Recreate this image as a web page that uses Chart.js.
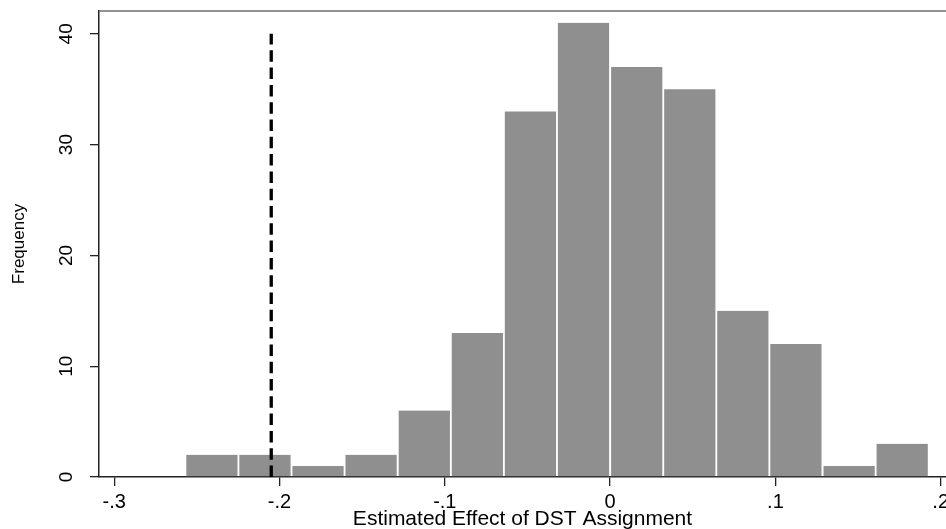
<!DOCTYPE html>
<html>
<head>
<meta charset="utf-8">
<script src="https://cdn.jsdelivr.net/npm/chart.js@4.4.0/dist/chart.umd.min.js"></script>
<style>
  html, body { margin: 0; padding: 0; background: #fff; }
  #wrap { width: 946px; height: 529px; }
</style>
</head>
<body>
<div id="wrap"><canvas id="hist"></canvas></div>
<script>
// centres of the histogram bins (estimated effect) and their counts
const binCenters = [-0.2409, -0.2088, -0.1767, -0.1446, -0.1124, -0.0803, -0.0482, -0.0161, 0.0161, 0.0482, 0.0803, 0.1124, 0.1446, 0.1767];
const frequency = [2, 2, 1, 2, 6, 13, 33, 41, 37, 35, 15, 12, 1, 3];

// dashed reference line (actual estimate)
const refLineX = [-0.2050, -0.2050];
const refLineY = [0, 40];

// axis ticks
const xTicks = [-0.3, -0.2, -0.1, 0, 0.1, 0.2];
const xTickLabels = ['-.3', '-.2', '-.1', '0', '.1', '.2'];
const yTicks = [0, 10, 20, 30, 40];
const yTickLabels = ['0', '10', '20', '30', '40'];

const FONT = '"Liberation Sans", Arial, sans-serif';

// thin grey line closing the plot region on top
const topLine = {
  id: 'topLine',
  afterDraw(chart) {
    const { ctx, chartArea } = chart;
    ctx.save();
    ctx.strokeStyle = '#6f6f6f';
    ctx.lineWidth = 1.5;
    ctx.beginPath();
    ctx.moveTo(chartArea.left, chartArea.top);
    ctx.lineTo(chartArea.right, chartArea.top);
    ctx.stroke();
    ctx.restore();
  }
};

// keep the plot box where the reference has it (no extra label padding)
function noPad(s) {
  s.paddingTop = 0;
  s.paddingBottom = 0;
  s.paddingLeft = 0;
  s.paddingRight = 0;
}

new Chart(document.getElementById('hist'), {
  type: 'bar',
  data: {
    datasets: [
      {
        type: 'line',
        data: refLineX.map((x, i) => ({ x: x, y: refLineY[i] })),
        borderColor: '#000',
        borderWidth: 3.3,
        borderDash: [11.5, 5.8],
        pointRadius: 0,
        fill: false,
        order: 0
      },
      {
        type: 'bar',
        data: binCenters.map((c, i) => ({ x: c, y: frequency[i] })),
        backgroundColor: '#8f8f8f',
        borderColor: '#ffffff',
        borderWidth: { left: 1.25, right: 1.25, top: 0, bottom: 0 },
        borderSkipped: false,
        barPercentage: 1,
        categoryPercentage: 1,
        order: 1
      }
    ]
  },
  options: {
    responsive: true,
    maintainAspectRatio: false,
    animation: false,
    layout: { padding: { top: 11, right: 0, bottom: 0, left: 0 } },
    plugins: { legend: { display: false }, tooltip: { enabled: false } },
    scales: {
      x: {
        type: 'linear',
        offset: false,
        min: -0.3092,
        max: 0.2032,
        afterBuildTicks: s => { s.ticks = xTicks.map(v => ({ value: v })); },
        afterFit: s => { s.height = 52; noPad(s); },
        grid: { display: true, drawOnChartArea: false, offset: false, tickLength: 9, color: '#222', lineWidth: 1.3 },
        border: { display: true, color: '#222', width: 1.5 },
        ticks: {
          color: '#000',
          padding: 4,
          maxRotation: 0,
          font: { family: FONT, size: 20 },
          callback: (v, i) => xTickLabels[i]
        },
        title: {
          display: true,
          text: 'Estimated Effect of DST Assignment',
          color: '#000',
          font: { family: FONT, size: 21, lineHeight: 1 },
          padding: { top: 0, bottom: -1 }
        }
      },
      y: {
        type: 'linear',
        min: 0,
        max: 42.06,
        afterBuildTicks: s => { s.ticks = yTicks.map(v => ({ value: v })); },
        afterFit: s => { s.width = 99; noPad(s); },
        grid: { display: true, drawOnChartArea: false, tickLength: 9, color: '#222', lineWidth: 1.3 },
        border: { display: true, color: '#222', width: 1.5 },
        ticks: {
          color: '#000',
          padding: 13,
          minRotation: 90,
          maxRotation: 90,
          crossAlign: 'center',
          font: { family: FONT, size: 19 },
          callback: (v, i) => yTickLabels[i]
        },
        title: {
          display: true,
          text: 'Frequency',
          color: '#000',
          font: { family: FONT, size: 17 },
          padding: { top: 9, bottom: 0 }
        }
      }
    }
  },
  plugins: [topLine]
});
</script>
</body>
</html>
